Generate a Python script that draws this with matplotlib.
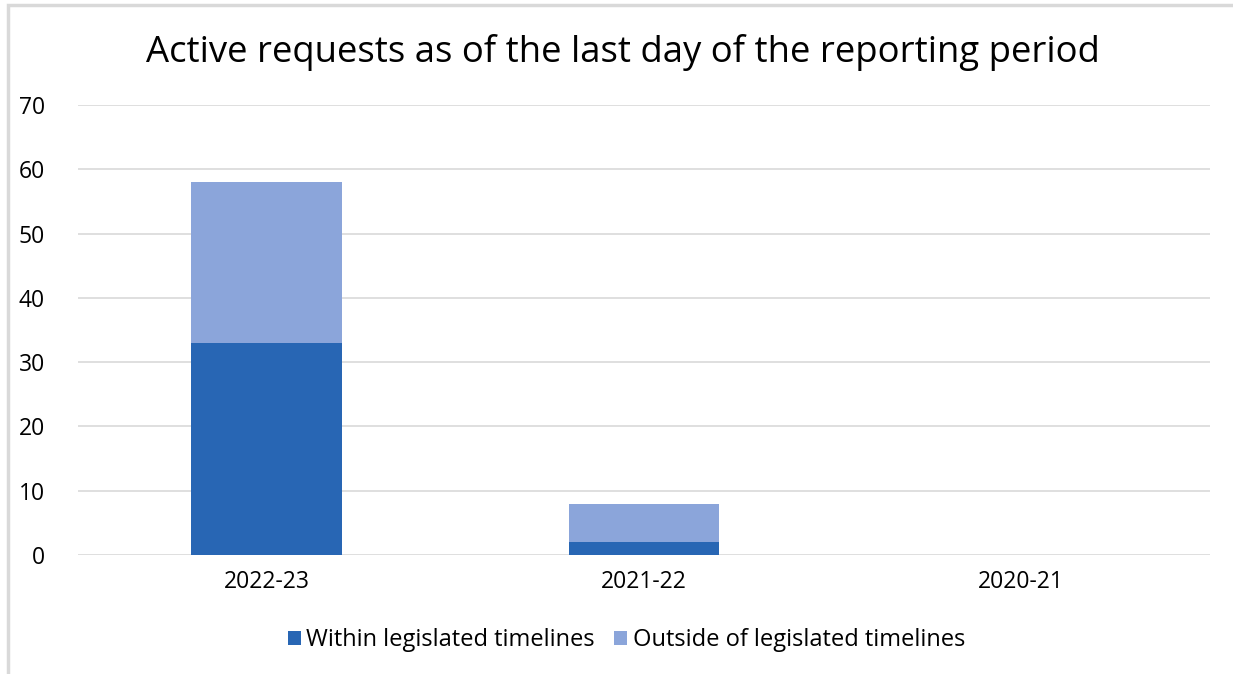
import numpy as np
import matplotlib.pyplot as plt
from matplotlib.patches import Rectangle

# data
years = ["2022-23", "2021-22", "2020-21"]
within = [33, 2, 0]
outside = [25, 6, 0]

col_in = "#2866B4"
col_out = "#8BA5DA"

plt.rcParams['font.family'] = ['Open Sans', 'DejaVu Sans']

fig = plt.figure(figsize=(12.33, 6.74), dpi=100)
ax = fig.add_axes([0.0633, 0.1766, 0.918, 0.6676])

# light frame round the chart
fig.patches.append(Rectangle((8/1233, -0.1), 1.2, 1.1 - 5/674, transform=fig.transFigure,
                             fill=False, edgecolor="#D9D9D9", lw=2.5))

x = np.arange(len(years))
ax.bar(x, within, width=0.4, color=col_in, label="Within legislated timelines", zorder=3)
ax.bar(x, outside, width=0.4, bottom=within, color=col_out,
       label="Outside of legislated timelines", zorder=3)

ax.set_xlim(-0.5, 2.5)
ax.set_ylim(0, 70)
ax.set_yticks(range(0, 71, 10))
ax.set_xticks(x)
ax.set_xticklabels(years)
ax.tick_params(axis="both", length=0, labelsize=16.5, colors="#000000")
ax.tick_params(axis="y", pad=24)
ax.tick_params(axis="x", pad=11)
ax.grid(axis="y", color="#D9D9D9", lw=1.2, zorder=0)
for s in ax.spines.values():
    s.set_visible(False)

fig.text(0.505, 0.922, "Active requests as of the last day of the reporting period",
         ha="center", va="center", fontsize=26.3)

fig.legend(loc="center", bbox_to_anchor=(0.508, 0.05), ncol=2, frameon=False,
           fontsize=17, handlelength=0.55, handleheight=0.55, handletextpad=0.25,
           columnspacing=0.8)

fig.savefig("out.png", dpi=100)
